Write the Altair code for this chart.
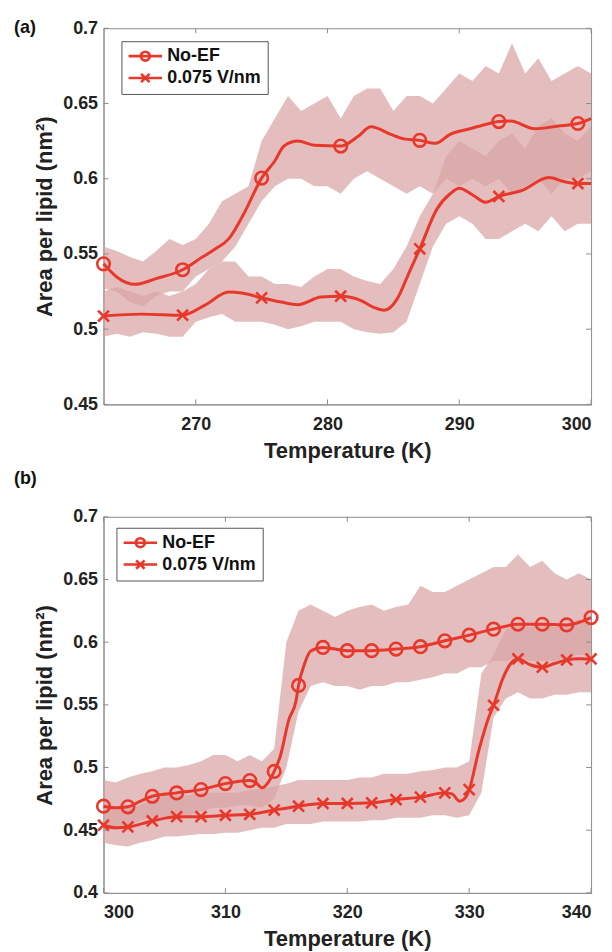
import altair as alt
import pandas as pd

RED = "#e8382b"
PINK = "#d9a2a2"
AXC = "#8c8c8c"
TXT = "#222222"
FONT = "Liberation Sans"

SERIES = ["No-EF", "0.075 V/nm"]

# ---------------- panel (a) ----------------
a_noise_T = list(range(263, 301))
a_noef_hi = [0.555, 0.552, 0.548, 0.545, 0.552, 0.560, 0.556, 0.560, 0.570, 0.585,
             0.590, 0.595, 0.625, 0.640, 0.655, 0.645, 0.650, 0.655, 0.640, 0.655,
             0.660, 0.660, 0.645, 0.655, 0.655, 0.650, 0.660, 0.670, 0.665, 0.675,
             0.670, 0.690, 0.670, 0.680, 0.665, 0.670, 0.675, 0.670]
a_noef_lo = [0.527, 0.525, 0.518, 0.515, 0.522, 0.525, 0.525, 0.535, 0.540, 0.545,
             0.555, 0.570, 0.585, 0.595, 0.600, 0.600, 0.595, 0.595, 0.590, 0.600,
             0.605, 0.600, 0.595, 0.590, 0.595, 0.590, 0.600, 0.595, 0.600, 0.595,
             0.600, 0.590, 0.595, 0.600, 0.590, 0.600, 0.600, 0.605]
a_field_hi = [0.525, 0.528, 0.525, 0.522, 0.525, 0.522, 0.525, 0.530, 0.540, 0.545,
              0.545, 0.535, 0.535, 0.530, 0.530, 0.528, 0.535, 0.540, 0.540, 0.535,
              0.532, 0.530, 0.540, 0.555, 0.575, 0.590, 0.615, 0.625, 0.620, 0.615,
              0.625, 0.630, 0.620, 0.635, 0.640, 0.630, 0.625, 0.635]
a_field_lo = [0.495, 0.497, 0.495, 0.498, 0.497, 0.495, 0.495, 0.505, 0.508, 0.510,
              0.505, 0.505, 0.505, 0.503, 0.500, 0.502, 0.505, 0.505, 0.505, 0.500,
              0.498, 0.497, 0.498, 0.505, 0.530, 0.555, 0.570, 0.575, 0.570, 0.560,
              0.560, 0.565, 0.570, 0.565, 0.575, 0.565, 0.570, 0.570]

a_noef_T = [263, 264, 265.4, 267, 269, 270.5, 271.5, 272.5, 273.7, 275, 276, 276.7,
            277.75, 279, 281, 282.3, 283.3, 284.8, 285.8, 287, 288.2, 289.3, 290.8,
            292, 293, 293.9, 295.7, 297.5, 299, 300]
a_noef_v = [0.5434, 0.5347, 0.5298, 0.5336, 0.5395, 0.5479, 0.5534, 0.5600, 0.5776,
            0.6004, 0.6118, 0.6218, 0.6250, 0.6222, 0.6217, 0.6280, 0.6345, 0.6295,
            0.6265, 0.6255, 0.6235, 0.6295, 0.6332, 0.6360, 0.6380, 0.6383, 0.6332,
            0.6350, 0.6367, 0.6400]
a_field_T = [263, 265.9, 269, 270.7, 272.5, 273.5, 275, 276.5, 277.75, 279.5, 281,
             282.5, 283.5, 284.3, 285.3, 286.1, 287, 288.3, 289.3, 290, 291.1, 292,
             293, 294.7, 296.8, 298, 299, 300]
a_field_v = [0.5087, 0.5100, 0.5093, 0.5160, 0.5247, 0.5240, 0.5208, 0.5180, 0.5163,
             0.5214, 0.5219, 0.5192, 0.5145, 0.5126, 0.5203, 0.5358, 0.5534, 0.5798,
             0.5900, 0.5937, 0.5887, 0.5843, 0.5882, 0.5920, 0.6008, 0.5980, 0.5968,
             0.5968]
a_marker_T = [263, 269, 275, 281, 287, 293, 299]
a_noef_mk = [0.5434, 0.5395, 0.6004, 0.6217, 0.6255, 0.6380, 0.6367]
a_field_mk = [0.5087, 0.5093, 0.5208, 0.5219, 0.5534, 0.5882, 0.5968]
a_xticks = [270, 280, 290, 300]
a_yticks = [0.45, 0.5, 0.55, 0.6, 0.65, 0.7]

# ---------------- panel (b) ----------------
b_noise_T = list(range(300, 341))
b_noef_hi = [0.490, 0.488, 0.492, 0.495, 0.497, 0.500, 0.500, 0.502, 0.505, 0.510,
             0.510, 0.505, 0.510, 0.505, 0.515, 0.600, 0.625, 0.630, 0.625, 0.620,
             0.625, 0.628, 0.630, 0.625, 0.628, 0.630, 0.645, 0.640, 0.640, 0.645,
             0.650, 0.655, 0.660, 0.660, 0.670, 0.660, 0.665, 0.655, 0.650, 0.655,
             0.650]
b_noef_lo = [0.452, 0.450, 0.452, 0.458, 0.460, 0.460, 0.462, 0.462, 0.465, 0.468,
             0.468, 0.470, 0.470, 0.468, 0.475, 0.500, 0.545, 0.565, 0.568, 0.565,
             0.565, 0.562, 0.565, 0.565, 0.568, 0.568, 0.570, 0.572, 0.575, 0.575,
             0.580, 0.580, 0.585, 0.585, 0.588, 0.585, 0.585, 0.585, 0.588, 0.590,
             0.590]
b_field_hi = [0.470, 0.468, 0.468, 0.470, 0.475, 0.478, 0.478, 0.478, 0.480, 0.480,
              0.480, 0.480, 0.482, 0.483, 0.485, 0.487, 0.490, 0.490, 0.490, 0.490,
              0.490, 0.492, 0.492, 0.495, 0.495, 0.495, 0.497, 0.498, 0.500, 0.500,
              0.505, 0.575, 0.590, 0.610, 0.615, 0.612, 0.615, 0.612, 0.615, 0.618,
              0.615]
b_field_lo = [0.440, 0.438, 0.437, 0.440, 0.442, 0.445, 0.445, 0.446, 0.447, 0.447,
              0.448, 0.448, 0.450, 0.452, 0.452, 0.455, 0.455, 0.455, 0.457, 0.457,
              0.457, 0.457, 0.458, 0.458, 0.460, 0.460, 0.460, 0.462, 0.462, 0.460,
              0.462, 0.480, 0.540, 0.555, 0.560, 0.555, 0.555, 0.558, 0.558, 0.560,
              0.560]

b_noef_T = [300, 301, 302, 303, 304, 306, 308, 310, 312, 312.5, 313, 313.5, 314,
            314.5, 315.2, 315.8, 316, 316.5, 317, 318, 320, 322, 324, 326, 328, 330,
            332, 334, 336, 338, 340]
b_noef_v = [0.4692, 0.4680, 0.4687, 0.4730, 0.4771, 0.4798, 0.4824, 0.4872, 0.4896,
            0.4880, 0.4838, 0.4880, 0.4969, 0.5090, 0.5380, 0.5536, 0.5655, 0.5830,
            0.5930, 0.5958, 0.5932, 0.5932, 0.5945, 0.5964, 0.6011, 0.6056, 0.6104,
            0.6143, 0.6143, 0.6138, 0.6196]
b_field_T = [300, 301, 302, 304, 306, 308, 310, 312, 314, 316, 318, 320, 322, 324,
             326, 328, 328.6, 329.2, 329.7, 330, 330.8, 331.6, 332, 332.8, 333.5, 334,
             335, 336, 337, 338, 339, 340]
b_field_v = [0.4540, 0.4520, 0.4526, 0.4574, 0.4608, 0.4608, 0.4619, 0.4627, 0.4661,
             0.4692, 0.4714, 0.4714, 0.4719, 0.4745, 0.4764, 0.4798, 0.4790, 0.4732,
             0.4760, 0.4824, 0.5140, 0.5400, 0.5497, 0.5720, 0.5840, 0.5866, 0.5820,
             0.5800, 0.5830, 0.5858, 0.5868, 0.5866]
b_marker_T = list(range(300, 341, 2))
b_noef_mk = [0.4692, 0.4687, 0.4771, 0.4798, 0.4824, 0.4872, 0.4896, 0.4969, 0.5655,
             0.5958, 0.5932, 0.5932, 0.5945, 0.5964, 0.6011, 0.6056, 0.6104, 0.6143,
             0.6143, 0.6138, 0.6196]
b_field_mk = [0.4540, 0.4526, 0.4574, 0.4608, 0.4608, 0.4619, 0.4627, 0.4661, 0.4692,
              0.4714, 0.4714, 0.4719, 0.4745, 0.4764, 0.4798, 0.4824, 0.5497, 0.5866,
              0.5800, 0.5858, 0.5866]
b_xticks = [300, 310, 320, 330, 340]
b_yticks = [0.4, 0.45, 0.5, 0.55, 0.6, 0.65, 0.7]

# legend glyphs (line + marker) and plot marker glyph
LEG_CIRCLE = ("M-2.4,0L2.4,0M0.64,0A0.64,0.64,0,1,1,-0.64,0"
              "A0.64,0.64,0,1,1,0.64,0")
LEG_X = "M-2.4,0L2.4,0M-0.6,-0.6L0.6,0.6M-0.6,0.6L0.6,-0.6"
X_MARK = "M-1,-1L1,1M-1,1L1,-1"

W, H = 490, 378


def panel(label, xdom, ydom, xticks, yticks,
          nT, n1hi, n1lo, n2hi, n2lo,
          c1T, c1v, c2T, c2v, mT, m1, m2, legx, legy, labely):
    xs = alt.Scale(domain=xdom, nice=False, zero=False)
    ys = alt.Scale(domain=ydom, nice=False, zero=False)
    xax = alt.Axis(values=xticks, title="Temperature (K)", grid=False,
                   tickSize=0, labelPadding=11, titlePadding=7)
    yax = alt.Axis(values=yticks, title="Area per lipid (nm²)", grid=False,
                   tickSize=0, labelPadding=6, titlePadding=6, format=".2~f")

    def X(f):
        return alt.X(f, scale=xs, axis=xax)

    def Y(f):
        return alt.Y(f, scale=ys, axis=yax)

    noise = pd.DataFrame({"T": nT, "hi1": n1hi, "lo1": n1lo,
                          "hi2": n2hi, "lo2": n2lo})
    c1 = pd.DataFrame({"T": c1T, "v": c1v})
    c2 = pd.DataFrame({"T": c2T, "v": c2v})
    mk1 = pd.DataFrame({"T": mT, "v": m1, "s": SERIES[0]})
    mk2 = pd.DataFrame({"T": mT, "v": m2, "s": SERIES[1]})
    mk = pd.concat([mk1, mk2])
    xt = pd.DataFrame({"T": xticks})
    yt = pd.DataFrame({"v": yticks})

    base_n = alt.Chart(noise)
    band1 = base_n.mark_area(color=PINK, opacity=0.7).encode(
        x=X("T:Q"), y=Y("lo1:Q"), y2="hi1:Q")
    band2 = base_n.mark_area(color=PINK, opacity=0.7).encode(
        x=X("T:Q"), y=Y("lo2:Q"), y2="hi2:Q")
    line1 = alt.Chart(c1).mark_line(color=RED, strokeWidth=3,
                                    interpolate="monotone").encode(
        x=X("T:Q"), y=Y("v:Q"))
    line2 = alt.Chart(c2).mark_line(color=RED, strokeWidth=3,
                                    interpolate="monotone").encode(
        x=X("T:Q"), y=Y("v:Q"))
    pts1 = alt.Chart(mk1).mark_point(shape="circle", filled=False, size=160,
                                     strokeWidth=2.6, color=RED, opacity=1).encode(
        x=X("T:Q"), y=Y("v:Q"))
    pts2 = alt.Chart(mk2).mark_point(shape=X_MARK, filled=False, size=120,
                                     strokeWidth=2.6, color=RED, opacity=1).encode(
        x=X("T:Q"), y=Y("v:Q"))
    leg = alt.Chart(mk).mark_point(filled=False, opacity=0, color=RED).encode(
        x=X("T:Q"), y=Y("v:Q"),
        shape=alt.Shape("s:N", scale=alt.Scale(domain=SERIES,
                                               range=[LEG_CIRCLE, LEG_X]),
                        legend=alt.Legend(
                            title=None, orient="none", legendX=legx, legendY=legy,
                            strokeColor="#555555", fillColor="white", padding=6,
                            labelFont=FONT, labelFontWeight="bold",
                            labelFontSize=18, labelColor="#111111",
                            symbolSize=196, symbolStrokeWidth=2.6,
                            symbolStrokeColor=RED, symbolFillColor="transparent",
                            symbolOpacity=1, symbolOffset=9, labelOffset=13,
                            rowPadding=2, cornerRadius=0)))
    tb = alt.Chart(xt).mark_rule(color=AXC, strokeWidth=1).encode(
        x=X("T:Q"), y=alt.value(H), y2=alt.value(H - 5))
    tt = alt.Chart(xt).mark_rule(color=AXC, strokeWidth=1).encode(
        x=X("T:Q"), y=alt.value(0), y2=alt.value(5))
    tl = alt.Chart(yt).mark_rule(color=AXC, strokeWidth=1).encode(
        y=Y("v:Q"), x=alt.value(0), x2=alt.value(5))
    tr = alt.Chart(yt).mark_rule(color=AXC, strokeWidth=1).encode(
        y=Y("v:Q"), x=alt.value(W - 5), x2=alt.value(W))
    lab = alt.Chart(pd.DataFrame({"l": [label]})).mark_text(
        font=FONT, fontWeight="bold", fontSize=18, align="left",
        baseline="middle", color="#111111").encode(
        text="l:N", x=alt.value(-90), y=alt.value(labely))

    return alt.layer(band1, band2, line1, line2, pts1, pts2, leg,
                     tb, tt, tl, tr, lab).properties(width=W, height=H)


pa = panel("(a)", [263, 300], [0.45, 0.7], a_xticks, a_yticks,
           a_noise_T, a_noef_hi, a_noef_lo, a_field_hi, a_field_lo,
           a_noef_T, a_noef_v, a_field_T, a_field_v,
           a_marker_T, a_noef_mk, a_field_mk, 18, 13, 0)
pb = panel("(b)", [300, 340], [0.4, 0.7], b_xticks, b_yticks,
           b_noise_T, b_noef_hi, b_noef_lo, b_field_hi, b_field_lo,
           b_noef_T, b_noef_v, b_field_T, b_field_v,
           b_marker_T, b_noef_mk, b_field_mk, 13, 11, -38)

chart = alt.vconcat(pa, pb, spacing=7).resolve_scale(
    x="independent", y="independent", shape="independent"
).resolve_legend(shape="independent").properties(
    padding={"left": 5, "top": 8, "right": 0, "bottom": 0}
).configure_view(stroke=AXC, strokeWidth=1).configure_axis(
    domainColor=AXC, labelFont=FONT, labelFontWeight="bold", labelFontSize=18,
    labelColor=TXT, titleFont=FONT, titleFontWeight="bold", titleFontSize=22,
    titleColor=TXT
)

chart.save("out.html", embed_options={"renderer": "svg", "actions": False})
